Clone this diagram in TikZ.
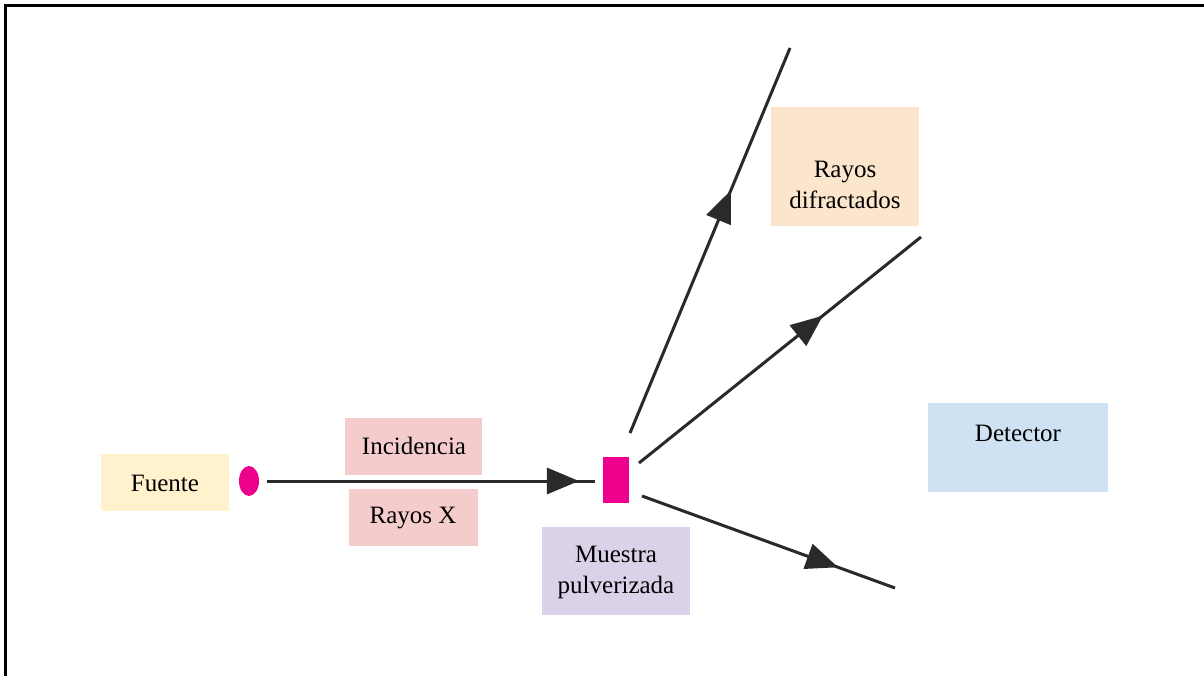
\documentclass[tikz,border=0pt]{standalone}
\usepackage{fontspec}
\setmainfont{Liberation Serif}
\usetikzlibrary{arrows.meta,decorations.markings,shapes.geometric}
\definecolor{cFuente}{HTML}{FFF2CC}
\definecolor{cRayos}{HTML}{F4CCCC}
\definecolor{cMuestra}{HTML}{D9D2E9}
\definecolor{cDifr}{HTML}{FCE5CD}
\definecolor{cDet}{HTML}{CFE2F3}
\definecolor{cMag}{HTML}{EC008C}
\definecolor{cLine}{HTML}{2A2A2A}
\begin{document}
\begin{tikzpicture}[x=1pt,y=-1pt,
  box/.style={draw=none,inner sep=0pt,anchor=north west},
  lbl/.style={font=\fontsize{25}{31}\selectfont,align=center,text=black,inner sep=0pt},
  ray/.style={draw=cLine,line width=3pt},
  midarrow/.style={postaction={decorate},decoration={markings,
     mark=at position #1 with {\arrow{Triangle[length=32pt,width=26pt]}}}}
]
\useasboundingbox (0,0) rectangle (1204,676);
% frame (top and left only)
\draw[line width=3pt,black] (1204,5.5) -- (5.5,5.5) -- (5.5,676);

% boxes
\node[box,fill=cFuente,minimum width=128pt,minimum height=57pt] (bFuente) at (101,454) {};
\node[box,fill=cRayos,minimum width=137pt,minimum height=57pt] (bInc) at (345,418) {};
\node[box,fill=cRayos,minimum width=129pt,minimum height=57pt] (bRX) at (349,489) {};
\node[box,fill=cMuestra,minimum width=148pt,minimum height=88pt] (bMue) at (542,527) {};
\node[box,fill=cDifr,minimum width=148pt,minimum height=119pt] (bDif) at (771,107) {};
\node[box,fill=cDet,minimum width=180pt,minimum height=89pt] (bDet) at (928,403) {};

% labels
\node[lbl] (tFuente) at (165,483) {Fuente};
\node[lbl] (tInc) at (414,446) {Incidencia};
\node[lbl] (tRX) at (413,518) {Rayos X};
\node[lbl] (tMue) at (616,572) {Muestra\\pulverizada};
\node[lbl] (tDif) at (845,185) {Rayos\\difractados};
\node[lbl] (tDet) at (1018,433) {Detector};

% source and sample
\node[ellipse,fill=cMag,minimum width=20pt,minimum height=30pt,inner sep=0pt] (src) at (249,481) {};
\node[fill=cMag,minimum width=26pt,minimum height=46pt,inner sep=0pt] (sam) at (616,480) {};

% coordinates for ray ends
\coordinate (i0) at (267,481);
\coordinate (i1) at (595,481);
\coordinate (a0) at (630,433);
\coordinate (a1) at (790,48);
\coordinate (b0) at (639,463);
\coordinate (b1) at (921,237);
\coordinate (c0) at (642,496);
\coordinate (c1) at (895,588);

\draw[ray,midarrow=0.951] (i0) -- (i1);
\draw[ray,midarrow=0.63] (a0) -- (a1);
\draw[ray,midarrow=0.652] (b0) -- (b1);
\draw[ray,midarrow=0.775] (c0) -- (c1);
\end{tikzpicture}
\end{document}
